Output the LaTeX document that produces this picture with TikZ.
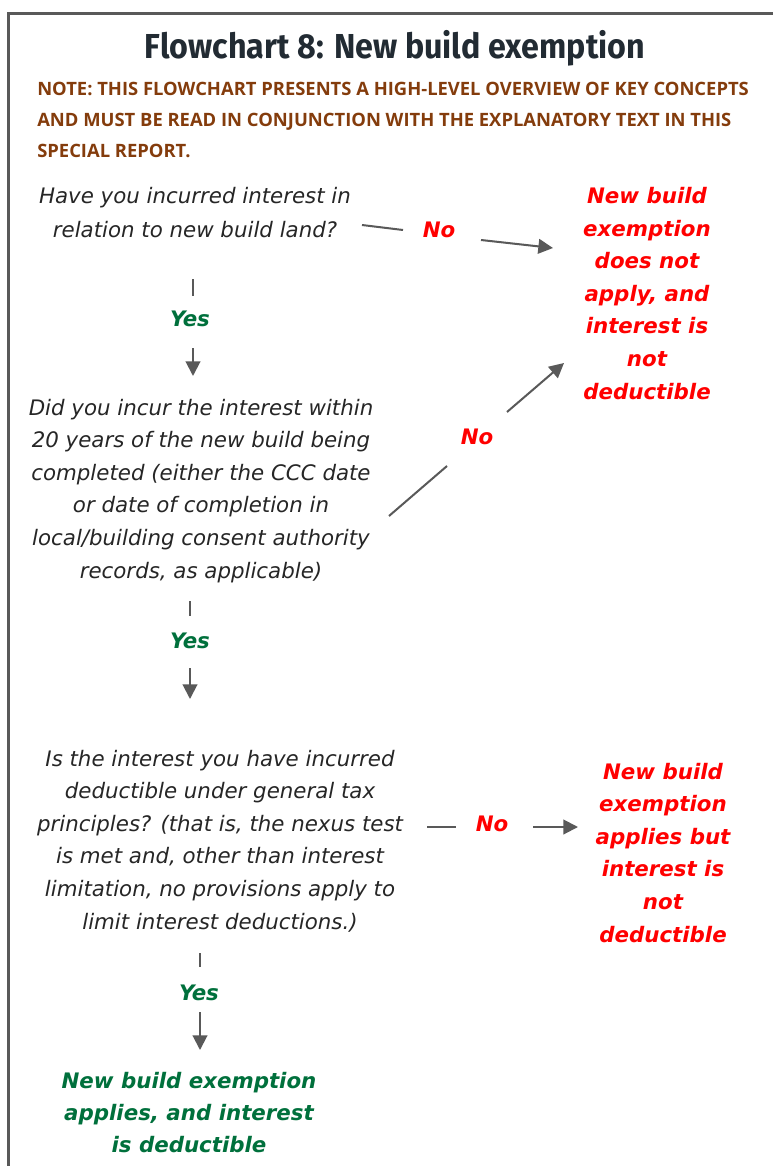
\documentclass[tikz,border=0pt]{standalone}
\usepackage{fontspec}
\setmainfont{DejaVu Sans}
\newfontfamily\titlefont[FakeStretch=0.93]{Fira Sans}
\newfontfamily\notefont{Open Sans}
\usetikzlibrary{arrows.meta}
\definecolor{txtc}{HTML}{262626}
\definecolor{ttlc}{HTML}{222B33}
\definecolor{brnc}{HTML}{843C0C}
\definecolor{redc}{HTML}{FF0000}
\definecolor{grnc}{HTML}{00703C}
\definecolor{lnc}{HTML}{595959}
\tikzset{
  question/.style={anchor=base, align=center, text=txtc, inner sep=0pt,
    font=\itshape\fontsize{16}{24.4}\selectfont},
  outred/.style={anchor=base, align=center, text=redc, inner sep=0pt,
    font=\bfseries\itshape\fontsize{16}{24.4}\selectfont},
  outgreen/.style={anchor=base, align=center, text=grnc, inner sep=0pt,
    font=\bfseries\itshape\fontsize{16}{24}\selectfont},
  yeslbl/.style={anchor=base, text=grnc, inner sep=0pt,
    font=\bfseries\itshape\fontsize{16}{20}\selectfont},
  nolbl/.style={anchor=base, text=redc, inner sep=0pt,
    font=\bfseries\itshape\fontsize{16}{20}\selectfont},
  conn/.style={draw=lnc, line width=1.5pt},
  arr/.style={conn, -{Triangle[length=11pt,width=11pt]}, fill=lnc},
}
\begin{document}
\begin{tikzpicture}[x=0.75pt,y=-0.75pt]
\useasboundingbox (0,0) rectangle (773,1166);
\fill[white] (0,0) rectangle (773,1166);
% frame
\coordinate (fb) at (8,1172);
\coordinate (ftl) at (8,13.5);
\coordinate (ftr) at (780,13.5);
\draw[draw=lnc, line width=2.25pt] (fb) -- (ftl) -- (ftr);

% title and note (base anchor = baseline of last line)
\node[anchor=base, inner sep=0pt, text=ttlc, font=\titlefont\bfseries\fontsize{26}{30}\selectfont] (title) at (395,59) {Flowchart 8: New build exemption};
\node[anchor=base west, align=left, inner sep=0pt, text=brnc, font=\notefont\bfseries\fontsize{13.8}{23.6}\selectfont] (note) at (37,158)
  {NOTE: THIS FLOWCHART PRESENTS A HIGH-LEVEL OVERVIEW OF KEY CONCEPTS\\
   AND MUST BE READ IN CONJUNCTION WITH THE EXPLANATORY TEXT IN THIS\\
   SPECIAL REPORT.};

% questions
\node[question, font=\itshape\fontsize{16}{25.5}\selectfont] (q1) at (195,238)
  {Have you incurred interest in\\relation to new build land?};
\node[question] (q2) at (201,578)
  {Did you incur the interest within\\20 years of the new build being\\completed (either the CCC date\\or date of completion in\\local/building consent authority\\records, as applicable)};
\node[question] (q3) at (220,929)
  {Is the interest you have incurred\\deductible under general tax\\principles? (that is, the nexus test\\is met and, other than interest\\limitation, no provisions apply to\\limit interest deductions.)};

% outcomes
\node[outred] (r1) at (647,399)
  {New build\\exemption\\does not\\apply, and\\interest is\\not\\deductible};
\node[outred] (r2) at (663,942)
  {New build\\exemption\\applies but\\interest is\\not\\deductible};
\node[outgreen] (g1) at (189,1152)
  {New build exemption\\applies, and interest\\is deductible};

% labels
\node[nolbl] (no1) at (439,238) {No};
\node[yeslbl] (yes1) at (190,326) {Yes};
\node[nolbl] (no2) at (477,444) {No};
\node[yeslbl] (yes2) at (190,648) {Yes};
\node[nolbl] (no3) at (492,831) {No};
\node[yeslbl] (yes3) at (199,1000) {Yes};

% connector points
\coordinate (n1a) at (362,225); \coordinate (n1b) at (403,230);
\coordinate (n1c) at (481,240); \coordinate (n1d) at (553,248);
\coordinate (y1a) at (193,279); \coordinate (y1b) at (193,296);
\coordinate (y1c) at (193,348); \coordinate (y1d) at (193,376);
\coordinate (n2a) at (389,516); \coordinate (n2b) at (447,466);
\coordinate (n2c) at (507,412); \coordinate (n2d) at (564,363);
\coordinate (y2a) at (190,601); \coordinate (y2b) at (190,616);
\coordinate (y2c) at (190,668); \coordinate (y2d) at (190,699);
\coordinate (n3a) at (427,827); \coordinate (n3b) at (456,827);
\coordinate (n3c) at (533,827); \coordinate (n3d) at (578,827);
\coordinate (y3a) at (200,953); \coordinate (y3b) at (200,967);
\coordinate (y3c) at (200,1012); \coordinate (y3d) at (200,1050);

\draw[conn] (n1a) -- (n1b); \draw[arr] (n1c) -- (n1d);
\draw[conn] (y1a) -- (y1b); \draw[arr] (y1c) -- (y1d);
\draw[conn] (n2a) -- (n2b); \draw[arr] (n2c) -- (n2d);
\draw[conn] (y2a) -- (y2b); \draw[arr] (y2c) -- (y2d);
\draw[conn] (n3a) -- (n3b); \draw[arr] (n3c) -- (n3d);
\draw[conn] (y3a) -- (y3b); \draw[arr] (y3c) -- (y3d);
\end{tikzpicture}
\end{document}
